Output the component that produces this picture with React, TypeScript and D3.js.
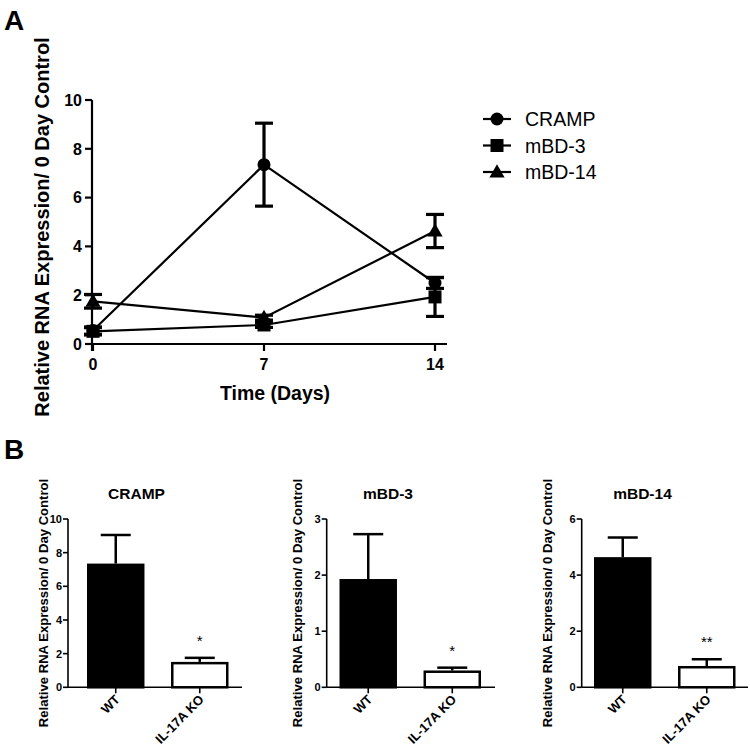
import React from "react";
import * as d3 from "d3";

// ---------- Data ----------
const days = [0, 7, 14];
const seriesNames = ["CRAMP", "mBD-3", "mBD-14"];
const crampMean = [0.55, 7.35, 2.5];
const crampErr = [0.15, 1.7, 0.22];
const mbd3Mean = [0.52, 0.78, 1.93];
const mbd3Err = [0.15, 0.1, 0.8];
const mbd14Mean = [1.75, 1.08, 4.63];
const mbd14Err = [0.28, 0.1, 0.68];
const timeTicks = [0, 7, 14];
const yTicksA = [0, 2, 4, 6, 8, 10];

const groups = ["WT", "IL-17A KO"];
const barTitles = ["CRAMP", "mBD-3", "mBD-14"];
const wtMean = [7.35, 1.93, 4.64];
const wtErr = [1.7, 0.8, 0.7];
const koMean = [1.51, 0.3, 0.76];
const koErr = [0.24, 0.05, 0.24];
const sigMarks = ["*", "*", "**"];
const barYMax = [10, 3, 6];
const barYTicks = [
  [0, 2, 4, 6, 8, 10],
  [0, 1, 2, 3],
  [0, 2, 4, 6],
];

const FONT = "'Liberation Sans', Arial, Helvetica, sans-serif";
const Y_TITLE = "Relative RNA Expression/ 0 Day Control";

// ---------- layout (positions only) ----------
const panelB = [
  { axisX: 68, barX: 87, endX: 242, titleX: 136.5, yTitleX: 43 },
  { axisX: 326.7, barX: 339.5, endX: 495, titleX: 388, yTitleX: 297 },
  { axisX: 581.7, barX: 594, endX: 748, titleX: 642.5, yTitleX: 547 },
];

function Marker({ kind, x, y }: { kind: string; x: number; y: number }) {
  if (kind === "CRAMP") return <circle cx={x} cy={y} r={6.5} fill="#000" />;
  if (kind === "mBD-3")
    return <rect x={x - 6.5} y={y - 6.5} width={13} height={13} fill="#000" />;
  const p = d3.symbol().type(d3.symbolTriangle).size(100)();
  return <path d={p || ""} transform={`translate(${x},${y + 1})`} fill="#000" />;
}

function PanelA() {
  const x = d3.scaleLinear().domain([0, 14]).range([93, 435]);
  const y = d3.scaleLinear().domain([0, 10]).range([344, 100]);
  const series = [
    { name: seriesNames[0], mean: crampMean, err: crampErr },
    { name: seriesNames[1], mean: mbd3Mean, err: mbd3Err },
    { name: seriesNames[2], mean: mbd14Mean, err: mbd14Err },
  ];
  const line = d3
    .line<number>()
    .x((_, i) => x(days[i]))
    .y((d) => y(d));
  return (
    <g fontFamily={FONT}>
      <text x={4} y={30} fontSize={28} fontWeight="bold">A</text>
      {/* axes */}
      <line x1={92} x2={92} y1={y(10)} y2={351} stroke="#000" strokeWidth={2.2} />
      <line x1={91} x2={447} y1={y(0)} y2={y(0)} stroke="#000" strokeWidth={2.2} />
      {yTicksA.map((t) => (
        <g key={t}>
          <line x1={85} x2={92} y1={y(t)} y2={y(t)} stroke="#000" strokeWidth={2.2} />
          <text x={82} y={y(t)} dy="0.36em" textAnchor="end" fontSize={16} fontWeight="bold">
            {t}
          </text>
        </g>
      ))}
      {timeTicks.map((t) => (
        <g key={t}>
          <line x1={x(t)} x2={x(t)} y1={y(0)} y2={351} stroke="#000" strokeWidth={2.2} />
          <text x={x(t)} y={370} textAnchor="middle" fontSize={16} fontWeight="bold">
            {t}
          </text>
        </g>
      ))}
      <text x={275} y={400} textAnchor="middle" fontSize={19.5} fontWeight="bold">
        Time (Days)
      </text>
      <text
        transform={`translate(49,227) rotate(-90)`}
        textAnchor="middle"
        fontSize={20}
        fontWeight="bold"
      >
        {Y_TITLE}
      </text>
      {/* series */}
      {series.map((s) => (
        <g key={s.name}>
          <path d={line(s.mean) || ""} fill="none" stroke="#000" strokeWidth={2.2} />
          {s.mean.map((m, i) => {
            const cx = x(days[i]);
            const hi = y(m + s.err[i]);
            const lo = y(m - s.err[i]);
            return (
              <g key={i}>
                <line x1={cx} x2={cx} y1={hi} y2={lo} stroke="#000" strokeWidth={3.2} />
                <line x1={cx - 9} x2={cx + 9} y1={hi} y2={hi} stroke="#000" strokeWidth={3.2} />
                <line x1={cx - 9} x2={cx + 9} y1={lo} y2={lo} stroke="#000" strokeWidth={3.2} />
                <Marker kind={s.name} x={cx} y={y(m)} />
              </g>
            );
          })}
        </g>
      ))}
      {/* legend */}
      {seriesNames.map((n, i) => {
        const ly = 119 + i * 26.5;
        return (
          <g key={n}>
            <line x1={483} x2={511} y1={ly} y2={ly} stroke="#000" strokeWidth={2.2} />
            <Marker kind={n} x={497} y={ly} />
            <text x={525} y={ly} dy="0.36em" fontSize={19.5}>
              {n}
            </text>
          </g>
        );
      })}
    </g>
  );
}

function BarPanel({ idx }: { idx: number }) {
  const L = panelB[idx];
  const y = d3.scaleLinear().domain([0, barYMax[idx]]).range([687.3, 519]);
  const x = d3
    .scaleBand<string>()
    .domain(groups)
    .range([L.barX, L.barX + 141.5])
    .paddingInner(0.316)
    .paddingOuter(0);
  const means = [wtMean[idx], koMean[idx]];
  const errs = [wtErr[idx], koErr[idx]];
  const bw = x.bandwidth();
  return (
    <g fontFamily={FONT}>
      <text x={L.titleX} y={499} textAnchor="middle" fontSize={15.5} fontWeight="bold">
        {barTitles[idx]}
      </text>
      <text
        transform={`translate(${L.yTitleX + 4.5},603) rotate(-90)`}
        textAnchor="middle"
        fontSize={13.1}
        fontWeight="bold"
      >
        {Y_TITLE}
      </text>
      {groups.map((g, i) => {
        const bx = x(g) as number;
        const cx = bx + bw / 2;
        const top = y(means[i]);
        const et = y(means[i] + errs[i]);
        return (
          <g key={g}>
            <line x1={cx} x2={cx} y1={top} y2={et} stroke="#000" strokeWidth={2.5} />
            <line x1={cx - 15} x2={cx + 15} y1={et} y2={et} stroke="#000" strokeWidth={2.5} />
            <rect
              x={bx + 1.25}
              y={top + 1.25}
              width={bw - 2.5}
              height={y(0) - top - 1.25}
              fill={i === 0 ? "#000" : "#fff"}
              stroke="#000"
              strokeWidth={2.5}
            />
            <line x1={cx} x2={cx} y1={y(0)} y2={y(0) + 6} stroke="#000" strokeWidth={1.6} />
            <text
              transform={`translate(${cx + 5},${y(0) + 13}) rotate(-45)`}
              textAnchor="end"
              fontSize={13}
              fontWeight="bold"
            >
              {g}
            </text>
            {i === 1 && (
              <text x={cx} y={et - 12} textAnchor="middle" fontSize={15}>
                {sigMarks[idx]}
              </text>
            )}
          </g>
        );
      })}
      <line x1={L.axisX} x2={L.axisX} y1={y(barYMax[idx])} y2={y(0)} stroke="#000" strokeWidth={1.6} />
      <line x1={L.axisX} x2={L.endX} y1={y(0)} y2={y(0)} stroke="#000" strokeWidth={1.6} />
      {barYTicks[idx].map((t) => (
        <g key={t}>
          <line x1={L.axisX - 5} x2={L.axisX} y1={y(t)} y2={y(t)} stroke="#000" strokeWidth={1.6} />
          <text x={L.axisX - 6} y={y(t)} dy="0.36em" textAnchor="end" fontSize={11} fontWeight="bold">
            {t}
          </text>
        </g>
      ))}
    </g>
  );
}

export default function App() {
  return (
    <svg
      width={750}
      height={747}
      style={{ position: "absolute", left: 0, top: 0, background: "#fff" }}
    >
      <rect width={750} height={747} fill="#fff" />
      <PanelA />
      <text x={4} y={459} fontSize={28} fontWeight="bold" fontFamily={FONT}>
        B
      </text>
      <BarPanel idx={0} />
      <BarPanel idx={1} />
      <BarPanel idx={2} />
    </svg>
  );
}
